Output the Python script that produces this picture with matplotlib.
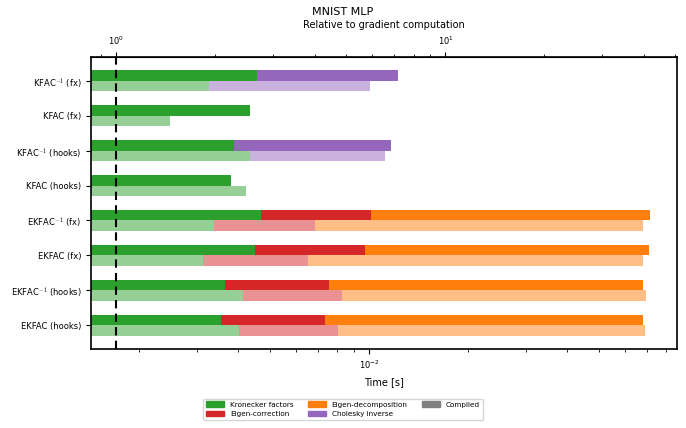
import numpy as np
import matplotlib
matplotlib.use("Agg")
import matplotlib.pyplot as plt
from matplotlib.patches import Patch
from matplotlib.ticker import LogLocator, NullFormatter

plt.rcParams["mathtext.fontset"] = "cm"
plt.rcParams["font.family"] = ["DejaVu Sans"]

# Zeiten in Sekunden, pro Phase (Kronecker, Eigen-Korrektur, Eigen-Zerlegung, Cholesky)
labels = ["KFAC$^{-1}$ (fx)", "KFAC (fx)", "KFAC$^{-1}$ (hooks)", "KFAC (hooks)",
          "EKFAC$^{-1}$ (fx)", "EKFAC (fx)", "EKFAC$^{-1}$ (hooks)", "EKFAC (hooks)"]

kron = [4.58e-3, 4.36e-3, 3.90e-3, 3.82e-3, 4.71e-3, 4.51e-3, 3.64e-3, 3.56e-3]
corr = [0, 0, 0, 0, 5.40e-3, 5.19e-3, 3.90e-3, 3.77e-3]
eigd = [0, 0, 0, 0, 61.2e-3, 61.1e-3, 60.36e-3, 60.57e-3]
chol = [7.64e-3, 0, 7.73e-3, 0, 0, 0, 0, 0]

kron_c = [3.26e-3, 2.48e-3, 4.34e-3, 4.24e-3, 3.39e-3, 3.14e-3, 4.15e-3, 4.02e-3]
corr_c = [0, 0, 0, 0, 3.48e-3, 3.41e-3, 4.11e-3, 4.06e-3]
eigd_c = [0, 0, 0, 0, 61.4e-3, 61.35e-3, 61.04e-3, 60.72e-3]
chol_c = [6.78e-3, 0, 6.81e-3, 0, 0, 0, 0, 0]

t_grad = 1.708e-3  # Gradientenberechnung

fases = ["Kronecker factors", "Eigen-correction", "Eigen-decomposition", "Cholesky inverse"]
colores = ["tab:green", "tab:red", "tab:orange", "tab:purple"]

fig = plt.figure(figsize=(6.86, 4.28), dpi=100)
ax = fig.add_axes([0.1327, 0.1846, 0.8543, 0.6822])
ax.set_xscale("log")

y = np.arange(len(labels))
h = 0.3

# Normal (oben) und kompiliert (unten, heller)
for datos, offset, alpha in [([kron, corr, eigd, chol], -h / 2, 1.0),
                             ([kron_c, corr_c, eigd_c, chol_c], h / 2, 0.5)]:
    izq = np.zeros(len(labels))
    for vals, color in zip(datos, colores):
        vals = np.array(vals)
        mask = vals > 0
        ax.barh(y[mask] + offset, vals[mask], left=izq[mask], height=h,
                color=color, alpha=alpha, linewidth=0)
        izq = izq + vals

ax.axvline(t_grad, color="black", linestyle=(0, (4, 2.5)), linewidth=1.5)

ax.set_xlim(1.43e-3, 8.64e-2)
ax.set_yticks(y)
ax.set_yticklabels(labels, fontsize=6)
ax.invert_yaxis()
ax.tick_params(axis="x", labelsize=6)
ax.set_xlabel("Time [s]", fontsize=7)
for s in ax.spines.values():
    s.set_linewidth(1.2)

sec = ax.secondary_xaxis("top", functions=(lambda t: t / t_grad, lambda r: r * t_grad))
sec.set_xticks([1, 10])
sec.xaxis.set_minor_locator(LogLocator(base=10, subs=np.arange(2, 10)))
sec.xaxis.set_minor_formatter(NullFormatter())
sec.tick_params(labelsize=6)
sec.set_xlabel("Relative to gradient computation", fontsize=7, labelpad=5)
fig.text(0.5, 0.983, "MNIST MLP", ha="center", va="top", fontsize=8)

handles = [Patch(color=c, label=l) for c, l in zip(colores, fases)]
handles.append(Patch(color="gray", label="Compiled"))
fig.legend(handles=handles, loc="lower center", bbox_to_anchor=(0.5, 0.01), ncol=3,
           fontsize=5.2, frameon=True, handlelength=2.5, columnspacing=2.0)

plt.savefig("out.png", dpi=100)
